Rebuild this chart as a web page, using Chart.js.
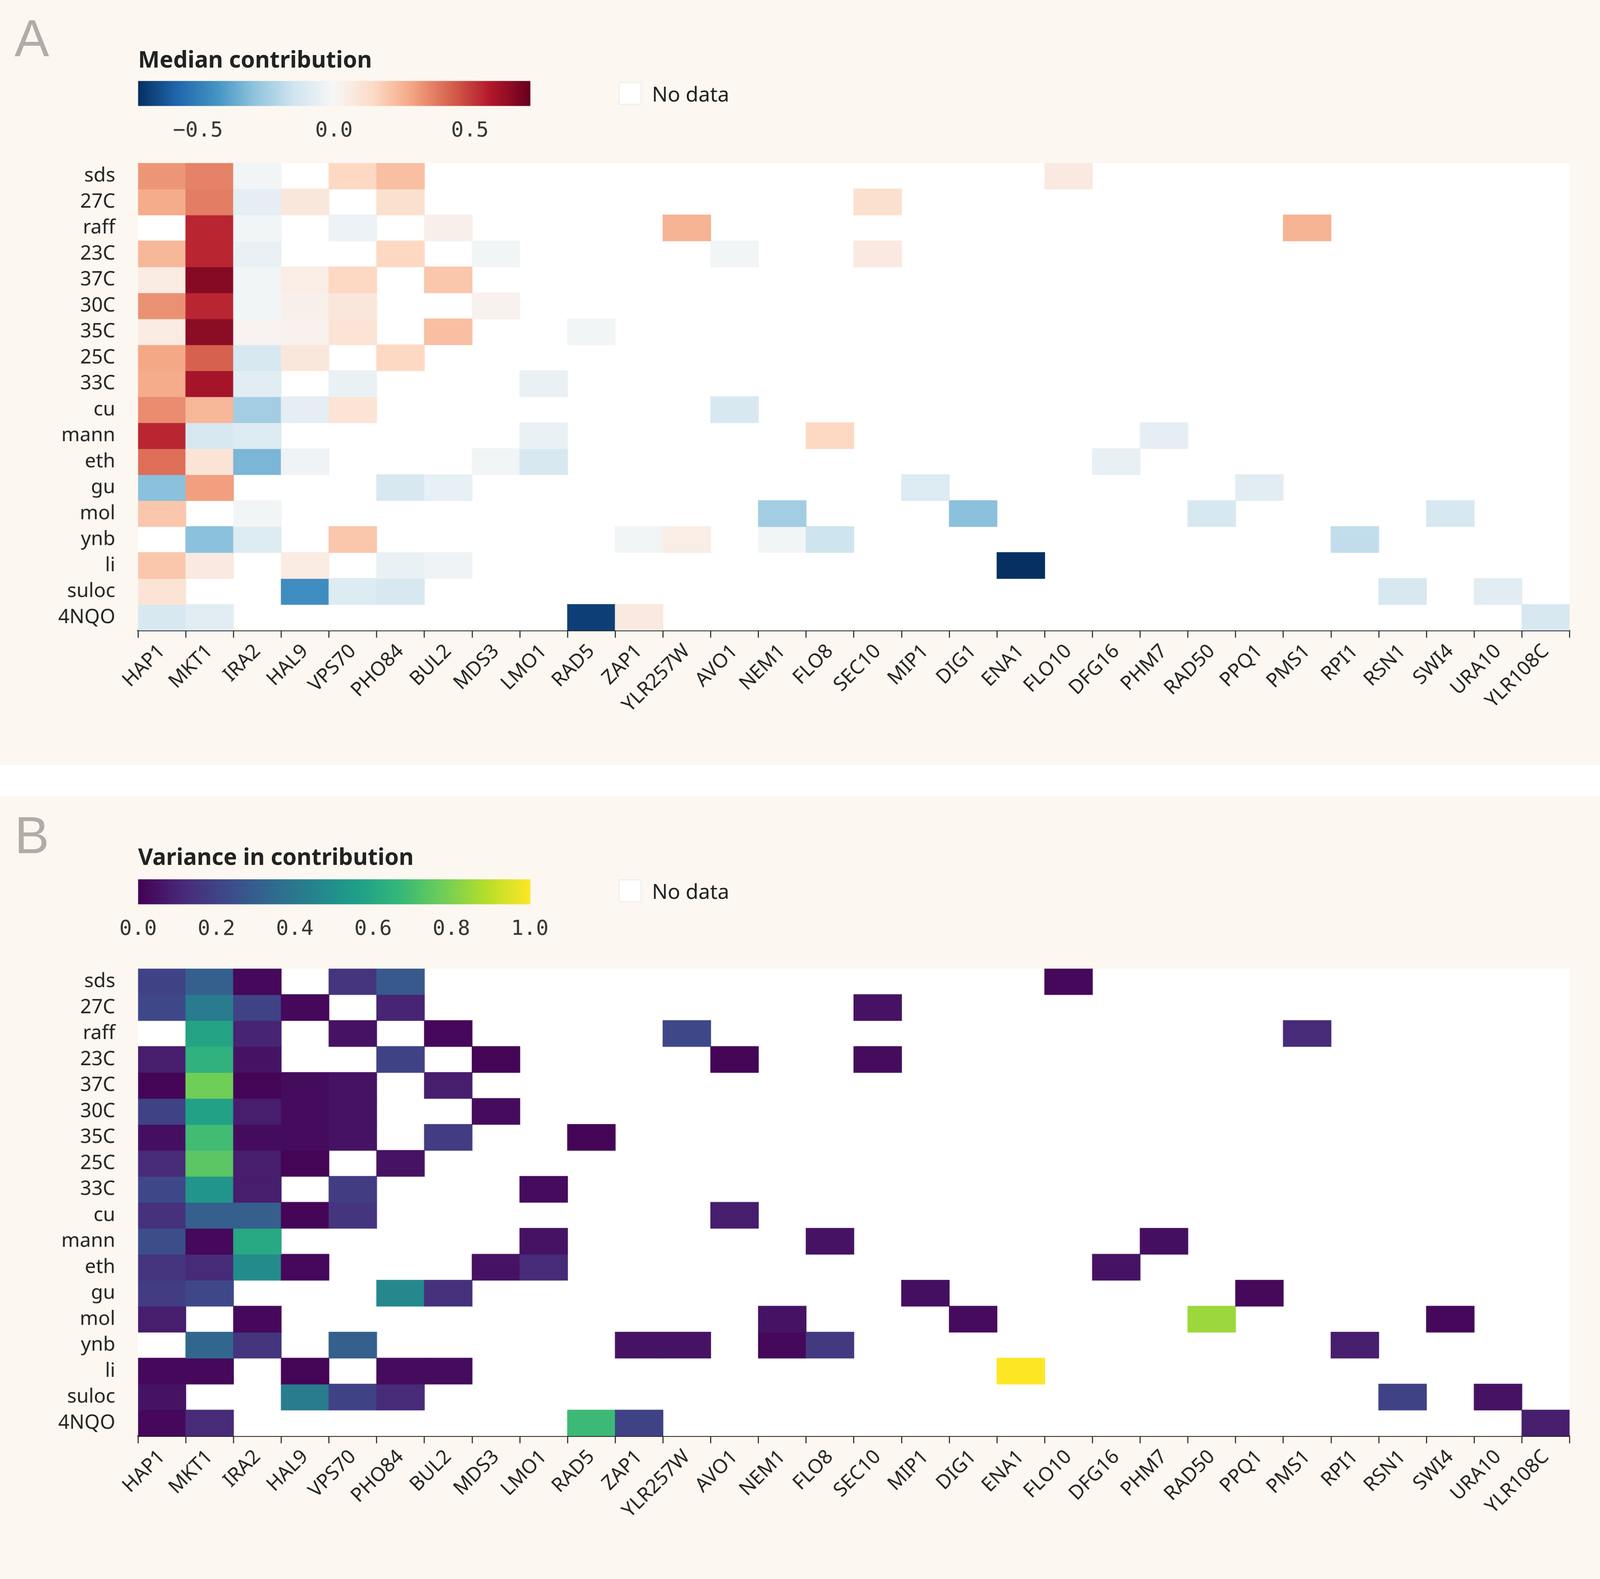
<!DOCTYPE html>
<html><head><meta charset="utf-8">
<script src="https://cdn.jsdelivr.net/npm/chart.js@4"></script>
<style>
html,body{margin:0;padding:0;background:#fff;}
#root{position:absolute;left:0;top:0;width:1568px;height:1521px;transform:scale(2.6575);transform-origin:0 0;font-family:"Noto Sans",sans-serif;}
.panel{position:absolute;left:0;width:1568px;background:#fcf7f1;}
.abs{position:absolute;}
.letter{font-size:50px;color:#b3aca5;font-family:"Liberation Sans",sans-serif;}
.title{font-size:22px;font-weight:bold;color:#222;}
.nd{font-size:20px;color:#222;}
.box{width:22px;height:22px;background:#fff;border:1px solid #eee;box-sizing:border-box;}
</style></head><body><div id="root">
<div class="panel" style="top:0;height:737px"></div>
<div class="panel" style="top:767px;height:754px"></div>
<div class="abs letter" style="left:14px;top:8px">A</div>
<div class="abs title" style="left:133px;top:41px">Median contribution</div>
<div class="abs box" style="left:596px;top:79px"></div>
<div class="abs nd" style="left:628px;top:77px">No data</div>
<div class="abs letter" style="left:14px;top:776px">B</div>
<div class="abs title" style="left:133px;top:809px">Variance in contribution</div>
<div class="abs box" style="left:596px;top:847px"></div>
<div class="abs nd" style="left:628px;top:845px">No data</div>
<div class="abs" style="left:103px;top:78px;width:437px;height:62px"><canvas id="cbA"></canvas></div>
<div class="abs" style="left:103px;top:847px;width:437px;height:62px"><canvas id="cbB"></canvas></div>
<div class="abs" style="left:0;top:150px;width:1530px;height:587px"><canvas id="hmA"></canvas></div>
<div class="abs" style="left:0;top:926px;width:1530px;height:587px"><canvas id="hmB"></canvas></div>
</div>
<script>
const genes=["HAP1","MKT1","IRA2","HAL9","VPS70","PHO84","BUL2","MDS3","LMO1","RAD5","ZAP1","YLR257W","AVO1","NEM1","FLO8","SEC10","MIP1","DIG1","ENA1","FLO10","DFG16","PHM7","RAD50","PPQ1","PMS1","RPI1","RSN1","SWI4","URA10","YLR108C"];
const conditions=["sds","27C","raff","23C","37C","30C","35C","25C","33C","cu","mann","eth","gu","mol","ynb","li","suloc","4NQO"];
const medianVals={
sds:{HAP1:0.32,MKT1:0.36,IRA2:-0.02,VPS70:0.15,PHO84:0.22,FLO10:0.07},
"27C":{HAP1:0.27,MKT1:0.37,IRA2:-0.07,HAL9:0.08,PHO84:0.12,SEC10:0.12},
raff:{MKT1:0.55,IRA2:-0.02,VPS70:-0.04,BUL2:0.04,YLR257W:0.25,PMS1:0.25},
"23C":{HAP1:0.24,MKT1:0.55,IRA2:-0.05,PHO84:0.15,MDS3:-0.02,AVO1:-0.02,SEC10:0.07},
"37C":{HAP1:0.06,MKT1:0.66,IRA2:-0.02,HAL9:0.05,VPS70:0.15,BUL2:0.2},
"30C":{HAP1:0.33,MKT1:0.55,IRA2:-0.02,HAL9:0.04,VPS70:0.08,MDS3:0.03},
"35C":{HAP1:0.06,MKT1:0.65,IRA2:0.02,HAL9:0.03,VPS70:0.1,BUL2:0.22,RAD5:-0.02},
"25C":{HAP1:0.28,MKT1:0.43,IRA2:-0.12,HAL9:0.08,PHO84:0.15},
"33C":{HAP1:0.27,MKT1:0.6,IRA2:-0.08,VPS70:-0.05,LMO1:-0.05},
cu:{HAP1:0.34,MKT1:0.24,IRA2:-0.25,HAL9:-0.07,VPS70:0.1,AVO1:-0.12},
mann:{HAP1:0.55,MKT1:-0.12,IRA2:-0.1,LMO1:-0.05,FLO8:0.15,PHM7:-0.07},
eth:{HAP1:0.4,MKT1:0.1,IRA2:-0.33,HAL9:-0.03,MDS3:-0.02,LMO1:-0.12,DFG16:-0.06},
gu:{HAP1:-0.3,MKT1:0.3,PHO84:-0.12,BUL2:-0.06,MIP1:-0.1,PPQ1:-0.08},
mol:{HAP1:0.2,IRA2:-0.02,NEM1:-0.25,DIG1:-0.3,RAD50:-0.12,SWI4:-0.12},
ynb:{MKT1:-0.3,IRA2:-0.1,VPS70:0.2,ZAP1:-0.02,YLR257W:0.05,NEM1:-0.02,FLO8:-0.15,RPI1:-0.18},
li:{HAP1:0.2,MKT1:0.07,HAL9:0.06,PHO84:-0.05,BUL2:-0.03,ENA1:-0.8},
suloc:{HAP1:0.1,HAL9:-0.45,VPS70:-0.1,PHO84:-0.12,RSN1:-0.12,URA10:-0.08},
"4NQO":{HAP1:-0.12,MKT1:-0.08,RAD5:-0.68,ZAP1:0.07,YLR108C:-0.12}
};
const varianceVals={
sds:{HAP1:0.2,MKT1:0.3,IRA2:0.02,VPS70:0.15,PHO84:0.28,FLO10:0.02},
"27C":{HAP1:0.22,MKT1:0.42,IRA2:0.2,HAL9:0.02,PHO84:0.1,SEC10:0.05},
raff:{MKT1:0.58,IRA2:0.1,VPS70:0.05,BUL2:0.02,YLR257W:0.22,PMS1:0.12},
"23C":{HAP1:0.08,MKT1:0.64,IRA2:0.05,PHO84:0.2,MDS3:0.01,AVO1:0.01,SEC10:0.03},
"37C":{HAP1:0.01,MKT1:0.78,IRA2:0.01,HAL9:0.03,VPS70:0.05,BUL2:0.08},
"30C":{HAP1:0.2,MKT1:0.57,IRA2:0.08,HAL9:0.03,VPS70:0.05,MDS3:0.03},
"35C":{HAP1:0.04,MKT1:0.69,IRA2:0.03,HAL9:0.03,VPS70:0.05,BUL2:0.18,RAD5:0.01},
"25C":{HAP1:0.12,MKT1:0.74,IRA2:0.08,HAL9:0.01,PHO84:0.05},
"33C":{HAP1:0.22,MKT1:0.52,IRA2:0.08,VPS70:0.18,LMO1:0.03},
cu:{HAP1:0.14,MKT1:0.3,IRA2:0.3,HAL9:0.01,VPS70:0.15,AVO1:0.08},
mann:{HAP1:0.24,MKT1:0.02,IRA2:0.6,LMO1:0.05,FLO8:0.05,PHM7:0.04},
eth:{HAP1:0.15,MKT1:0.12,IRA2:0.48,HAL9:0.02,MDS3:0.05,LMO1:0.12,DFG16:0.05},
gu:{HAP1:0.18,MKT1:0.22,PHO84:0.47,BUL2:0.14,MIP1:0.04,PPQ1:0.02},
mol:{HAP1:0.08,IRA2:0.02,NEM1:0.05,DIG1:0.03,RAD50:0.85,SWI4:0.02},
ynb:{MKT1:0.33,IRA2:0.15,VPS70:0.3,ZAP1:0.05,YLR257W:0.05,NEM1:0.02,FLO8:0.17,RPI1:0.08},
li:{HAP1:0.02,MKT1:0.02,HAL9:0.01,PHO84:0.03,BUL2:0.03,ENA1:1.0},
suloc:{HAP1:0.05,HAL9:0.42,VPS70:0.2,PHO84:0.12,RSN1:0.2,URA10:0.05},
"4NQO":{HAP1:0.02,MKT1:0.12,RAD5:0.68,ZAP1:0.2,YLR108C:0.08}
};
const rdbu=["#053061","#2166ac","#4393c3","#92c5de","#d1e5f0","#f7f7f7","#fddbc7","#f4a582","#d6604d","#b2182b","#67001f"];
const viridis=["#440154","#482878","#3e4989","#31688e","#26828e","#1f9e89","#35b779","#6ece58","#b5de2b","#fde725"];
function hex(h){return [1,3,5].map(i=>parseInt(h.substr(i,2),16));}
function interp(stops,t){t=Math.max(0,Math.min(1,t));const n=stops.length-1;const i=Math.min(n-1,Math.floor(t*n));const f=t*n-i;const a=hex(stops[i]),b=hex(stops[i+1]);return `rgb(${a.map((v,k)=>Math.round(v+(b[k]-v)*f)).join(",")})`;}
const MR=0.72;
const colA=v=>interp(rdbu,(v+MR)/(2*MR));
const colB=v=>interp(viridis,v);
const tickFont={family:"Noto Sans",size:19};
function nopad(s){s.paddingTop=0;s.paddingBottom=0;s.paddingLeft=0;s.paddingRight=0;}
function heatmap(id,vals,cf){
  const datasets=conditions.map((c,ri)=>({
    data:genes.map(g=>vals[c][g]===undefined?null:[ri-0.5,ri+0.5]),
    backgroundColor:genes.map(g=>vals[c][g]===undefined?"rgba(0,0,0,0)":cf(vals[c][g])),
    barPercentage:1,categoryPercentage:1,grouped:false,borderWidth:0,borderSkipped:false
  }));
  new Chart(document.getElementById(id),{type:"bar",data:{labels:genes,datasets},
   options:{responsive:true,maintainAspectRatio:false,devicePixelRatio:2.7,animation:false,
    layout:{padding:{top:7,right:18,left:0,bottom:0}},
    plugins:{legend:{display:false},tooltip:{enabled:false}},
    scales:{
     x:{grid:{display:true,drawOnChartArea:false,drawTicks:true,tickLength:7,color:"#222"},border:{display:true,color:"#222",width:1.5},
        ticks:{color:"#222",font:tickFont,maxRotation:45,minRotation:45,autoSkip:false,padding:2},
        afterFit:s=>{s.height=130;s.paddingLeft=0;s.paddingRight=0;}},
     y:{type:"linear",reverse:true,min:-0.5,max:conditions.length-0.5,
        afterBuildTicks:s=>{s.ticks=conditions.map((c,i)=>({value:i}));},
        grid:{display:false},border:{display:false},
        ticks:{color:"#222",font:tickFont,padding:14,callback:v=>conditions[v]},
        afterFit:s=>{s.width=133;nopad(s);}}
    }},
   plugins:[{id:"bgw",beforeDatasetsDraw(ch){const a=ch.chartArea,x=ch.ctx;x.save();x.fillStyle="#fff";x.fillRect(a.left,a.top,a.right-a.left,a.bottom-a.top);x.restore();}}]
  });
}
function colorbar(id,min,max,tks,fmt,cf){
  new Chart(document.getElementById(id),{type:"scatter",data:{datasets:[{data:[]}]},
   options:{responsive:true,maintainAspectRatio:false,devicePixelRatio:2.7,animation:false,
    layout:{padding:{left:30,right:30,top:0,bottom:0}},plugins:{legend:{display:false},tooltip:{enabled:false}},
    scales:{x:{type:"linear",min,max,afterBuildTicks:s=>{s.ticks=tks.map(v=>({value:v}));},
       grid:{display:false},border:{display:false},
       ticks:{color:"#333",font:{family:"DejaVu Sans Mono",size:20},padding:4,callback:fmt},
       afterFit:s=>{s.height=38;nopad(s);}},
     y:{display:false}}},
   plugins:[{id:"grad",beforeDatasetsDraw(ch){const a=ch.chartArea,x=ch.ctx,sx=ch.scales.x;const n=200;
     for(let i=0;i<n;i++){const v0=min+(max-min)*i/n,v1=min+(max-min)*(i+1)/n;x.fillStyle=cf((v0+v1)/2);
       const p0=sx.getPixelForValue(v0),p1=sx.getPixelForValue(v1);x.fillRect(p0,a.top,p1-p0+0.6,a.bottom-a.top);}}}]
  });
}
colorbar("cbA",-MR,MR,[-0.5,0,0.5],v=>(v<0?"\u2212":"")+Math.abs(v).toFixed(1),colA);
colorbar("cbB",0,1,[0,0.2,0.4,0.6,0.8,1.0],v=>v.toFixed(1),colB);
heatmap("hmA",medianVals,colA);
heatmap("hmB",varianceVals,colB);
</script></body></html>
